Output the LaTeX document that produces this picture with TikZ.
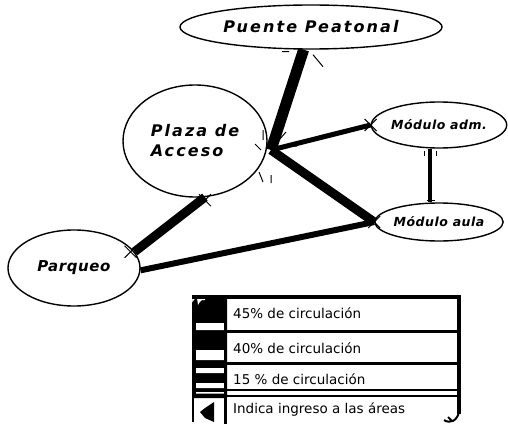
\documentclass[tikz,border=0pt]{standalone}
\usepackage{fontspec}
\setmainfont{DejaVu Sans}
\newfontfamily\lblfont[LetterSpace=4]{DejaVu Sans}
\newfontfamily\widefont[LetterSpace=13]{DejaVu Sans}
\usetikzlibrary{shapes.geometric}
\tikzset{
  place/.style={ellipse, draw, line width=1.4pt, fill=white, inner sep=0pt,
    font=\widefont\bfseries\itshape\fontsize{16}{20}\selectfont},
  smallplace/.style={place, font=\lblfont\bfseries\itshape\fontsize{12.5}{14}\selectfont},
  flow/.style={line width=#1},
  burst/.pic={\draw[line width=1pt] (-6,-6)--(6,6) (-6,6)--(6,-6);},
  ray/.style={line width=1pt},
  legtext/.style={anchor=west, inner sep=0pt, font=\fontsize{13.5}{15}\selectfont},
}
\begin{document}
\begin{tikzpicture}[x=1pt,y=-1pt]
\useasboundingbox (0,0) rectangle (508,425);

% places
\node[place, minimum width=262pt, minimum height=44pt] (puente) at (311,27) {Puente Peatonal};
\node[place, minimum width=144pt, minimum height=112pt, align=left] (plaza) at (195,141) {Plaza de\\Acceso};
\node[smallplace, minimum width=122pt, minimum height=46pt] (adm) at (439,125) {Módulo adm.};
\node[smallplace, minimum width=128pt, minimum height=38pt] (aula) at (439,222) {Módulo aula};
\node[place, font=\lblfont\bfseries\itshape\fontsize{15}{18}\selectfont, minimum width=132pt, minimum height=76pt] (parqueo) at (74,268) {Parqueo};
\coordinate (hub) at (271,150);

% flows
\draw[flow=11pt] (hub) -- (puente);
\draw[flow=5pt] (hub) -- (adm.west);
\draw[flow=9pt] (hub) -- (aula.west);
\draw[flow=9pt] (plaza.-80) -- (parqueo.15);
\draw[flow=6pt] (parqueo.-2) -- (aula.west);
\draw[flow=4pt] ([xshift=-9pt]adm.south) -- ([xshift=-9pt]aula.north);

% ingress marks
\pic at (adm.west) {burst};
\pic at (aula.west) {burst};
\pic at ([xshift=-4pt]parqueo.15) {burst};
\pic at ([yshift=-3pt]plaza.-80) {burst};
\draw[ray] ([xshift=-22pt,yshift=-2pt]puente.south) -- ++(-7,0)
           ([xshift=2pt,yshift=-5pt]puente.south) -- ++(10,12);
\draw[ray] ([xshift=-15pt,yshift=-2pt]adm.south) -- ++(0,5)
           ([xshift=-3pt,yshift=-2pt]adm.south) -- ++(0,5)
           ([xshift=-12pt,yshift=2pt]aula.north) -- ++(8,0);
\draw[ray] (hub) ++(-8,-20) -- ++(0,10)
           (hub) ++(15,-18) -- ++(-7,8)
           (hub) ++(16,-4) -- ++(10,0)
           (hub) ++(10,8) -- ++(10,4)
           (hub) ++(-12,22) -- ++(4,10)
           (hub) ++(0,25) -- ++(0,8)
           (hub) ++(-10,0) -- ++(-6,-6);

% legend
\fill (192,297) -- (192,303) .. controls (196,297) .. (202,297) -- (227,297) -- (227,398) -- (192,398) -- cycle;
\fill[white] (196,323) rectangle (224,330)
             (196,350) rectangle (224,360)
             (196,368) rectangle (224,373)
             (196,383) rectangle (224,388)
             (196,392) rectangle (224,393.5);
\fill[white] (197,298) .. controls (200,296) .. (205,296) -- (205,300) .. controls (201,300) .. (198,305) -- cycle;
\draw[line width=1.5pt] (192.75,398) -- (192.75,422);
\fill (214,402) -- (205,408) -- (200,412) -- (205,418) -- (214,422) -- cycle;
\draw[line width=4pt] (192,297) -- (459,297);
\draw[line width=4pt] (459,295) -- (459,414);
\draw[line width=3pt] (227,331.5) -- (459,331.5)
                      (227,363.5) -- (459,363.5)
                      (225.5,297) -- (225.5,424);
\draw[line width=2pt] (192,390) -- (459,390)
                      (192,395.5) -- (459,395.5);
\draw[line width=2pt] (459,412) .. controls (457,421) and (450,424) .. (444,420)
                      (448,417) -- (452,421);
\node[legtext] (l1) at (233,313) {45\% de circulación};
\node[legtext] (l2) at (233,348) {40\% de circulación};
\node[legtext] (l3) at (233,379) {15 \% de circulación};
\node[legtext] (l4) at (233,410) {Indica ingreso a las áreas};
\end{tikzpicture}
\end{document}
